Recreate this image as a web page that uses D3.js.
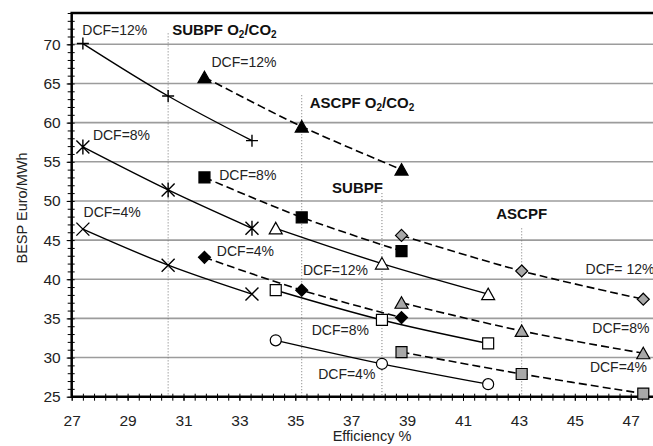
<!DOCTYPE html>
<html>
<head>
<meta charset="utf-8">
<script src="https://cdn.jsdelivr.net/npm/d3@7"></script>
<style>
  body { margin: 0; background: #fff; }
  svg { display: block; font-family: "Liberation Sans", Arial, sans-serif; }
</style>
</head>
<body>
<div id="chart"></div>
<script>
// Data ==========================
const dcfRates = ["12%", "8%", "4%"];

// efficiency (%) of the three cases of each plant type
const effSubpfOxy = [27.4, 30.45, 33.45];
const effAscpfOxy = [31.75, 35.23, 38.8];
const effSubpf = [34.3, 38.1, 41.9];
const effAscpf = [38.8, 43.1, 47.45];

// BESP (Euro/MWh), one row per DCF rate (12%, 8%, 4%)
const bespSubpfOxy = [[70.1, 63.4, 57.7], [56.9, 51.4, 46.5], [46.4, 41.8, 38.1]];
const bespAscpfOxy = [[65.8, 59.5, 54.0], [53.0, 47.9, 43.6], [42.8, 38.6, 35.1]];
const bespSubpf = [[46.5, 42.0, 38.1], [38.6, 34.8, 31.8], [32.2, 29.2, 26.6]];
const bespAscpf = [[45.6, 41.05, 37.45], [37.0, 33.4, 30.55], [30.7, 27.9, 25.4]];

const xTicks = [27, 29, 31, 33, 35, 37, 39, 41, 43, 45, 47];
const yTicks = [25, 30, 35, 40, 45, 50, 55, 60, 65, 70];

// Layout ========================
let svgWidth = 653;
let svgHeight = 446;
let x = d3.scaleLinear().domain([27, 48]).range([71.7, 71.7 + 21 * 27.95]);
let y = d3.scaleLinear().domain([25, 74]).range([396.7, 13]);

let svg = d3.select("#chart").append("svg").attr("width", svgWidth).attr("height", svgHeight);

const plants = [
  { name: ["SUBPF O", "2", "/CO", "2"], eff: effSubpfOxy, besp: bespSubpfOxy, dashed: false,
    markers: ["plus", "star", "cross"], fill: "none",
    nameAt: { dx: 4, base: 35, anchor: "start" }, guideTop: 71.4,
    labels: [{ i: 0, dx: -0.6, dy: -9, anchor: "start" }, { i: 0, dx: 10, dy: -7.4, anchor: "start" }, { i: 0, dx: 0.7, dy: -12, anchor: "start" }] },
  { name: ["ASCPF O", "2", "/CO", "2"], eff: effAscpfOxy, besp: bespAscpfOxy, dashed: true,
    markers: ["triangle", "square", "diamond"], fill: "#000",
    nameAt: { dx: 8, base: 108, anchor: "start" }, guideTop: 63.5,
    labels: [{ i: 0, dx: 7, dy: -10.6, anchor: "start" }, { i: 0, dx: 14.7, dy: 2.7, anchor: "start" }, { i: 0, dx: 12.4, dy: -1.6, anchor: "start" }] },
  { name: ["SUBPF"], eff: effSubpf, besp: bespSubpf, dashed: false,
    markers: ["triangle", "square", "circle"], fill: "#fff",
    nameAt: { dx: 1, base: 193, anchor: "end" }, guideTop: 51.0,
    labels: [{ i: 1, dx: -14, dy: 11.7, anchor: "end" }, { i: 1, dx: -13, dy: 15, anchor: "end" }, { i: 1, dx: -6.6, dy: 15, anchor: "end" }] },
  { name: ["ASCPF"], eff: effAscpf, besp: bespAscpf, dashed: true,
    markers: ["diamond", "triangle", "square"], fill: "#a8a8a8",
    nameAt: { dx: 0, base: 219, anchor: "middle" }, guideTop: 46.5,
    labels: [{ i: 2, dx: -57.7, dy: -25, anchor: "start", gap: true }, { i: 2, dx: -51, dy: -20, anchor: "start" }, { i: 2, dx: -53.4, dy: -21.6, anchor: "start" }] }
];

const markerPaths = {
  plus: "M-6,0H6M0,-6V6",
  star: "M-6.5,-6.5L6.5,6.5M-6.5,6.5L6.5,-6.5M0,-7.5V7.5",
  cross: "M-6.5,-6.5L6.5,6.5M-6.5,6.5L6.5,-6.5",
  triangle: "M0,-6L6.5,5.5L-6.5,5.5Z",
  square: "M-5.5,-5.5H5.5V5.5H-5.5Z",
  diamond: "M0,-6L6,0L0,6L-6,0Z",
  circle: "M5.5,0A5.5,5.5,0,1,1,-5.5,0A5.5,5.5,0,1,1,5.5,0Z"
};

// Grid ==========================
svg.append("g").selectAll("line")
  .data(yTicks.filter(v => v > 25))
  .enter().append("line")
  .attr("x1", x(27)).attr("x2", x(48))
  .attr("y1", d => y(d)).attr("y2", d => y(d))
  .attr("stroke", "#9c9c9c").attr("stroke-width", 1.6);

// vertical dotted guides at the middle case of each plant
svg.append("g").selectAll("line")
  .data(plants)
  .enter().append("line")
  .attr("x1", d => x(d.eff[1])).attr("x2", d => x(d.eff[1]))
  .attr("y1", d => y(d.guideTop)).attr("y2", y(25))
  .attr("stroke", "#777").attr("stroke-width", 1).attr("stroke-dasharray", "1,2");

// Axes ==========================
let xMinor = svg.append("g")
  .attr("transform", `translate(0, ${y(25)})`)
  .call(d3.axisBottom(x).tickValues(d3.range(0, 53).map(k => 27 + k * 0.4)).tickFormat(""));
xMinor.selectAll("line").attr("y1", -3).attr("y2", 4).attr("stroke", "#000");

let xAxis = svg.append("g")
  .attr("transform", `translate(0, ${y(25)})`)
  .call(d3.axisBottom(x).tickValues(xTicks).tickSize(4).tickPadding(14).tickFormat(d3.format("d")));
xAxis.selectAll("text").attr("font-size", 15.5).attr("fill", "#222").attr("font-family", "Liberation Sans, Arial, sans-serif");

let yMinor = svg.append("g")
  .attr("transform", `translate(${x(27)}, 0)`)
  .call(d3.axisLeft(y).tickValues(d3.range(25, 75)).tickFormat(""));
yMinor.selectAll("line").attr("x1", 3).attr("x2", -4).attr("stroke", "#000");

let yAxis = svg.append("g")
  .attr("transform", `translate(${x(27)}, 0)`)
  .call(d3.axisLeft(y).tickValues(yTicks).tickSize(5).tickPadding(6));
yAxis.selectAll("text").attr("font-size", 15.5).attr("fill", "#222").attr("font-family", "Liberation Sans, Arial, sans-serif");

svg.selectAll(".domain").remove();

// frame: left axis, bottom axis, top border
svg.append("path")
  .attr("d", `M${x(48)},${y(74)}H${x(27)}V${y(25)}H${x(48)}`)
  .attr("fill", "none").attr("stroke", "#000").attr("stroke-width", 2.5);

// Axis titles
svg.append("text")
  .attr("transform", `translate(27, 208) rotate(-90)`)
  .attr("text-anchor", "middle").attr("font-size", 14.5).attr("fill", "#222")
  .text("BESP Euro/MWh");

svg.append("text")
  .attr("x", 372).attr("y", 441)
  .attr("text-anchor", "middle").attr("font-size", 14.5).attr("fill", "#222")
  .text("Efficiency %");

// Series ========================
let line = d3.line()
  .x(d => x(d.eff))
  .y(d => y(d.besp))
  .curve(d3.curveCatmullRom.alpha(0.5));

plants.forEach(p => {
  p.besp.forEach((row, r) => {
    let pts = row.map((v, i) => ({ eff: p.eff[i], besp: v }));
    svg.append("path")
      .datum(pts)
      .attr("d", line)
      .attr("fill", "none")
      .attr("stroke", "#000")
      .attr("stroke-width", p.dashed ? 1.6 : 1.4)
      .attr("stroke-dasharray", p.dashed ? "8,4" : null);
  });
});

plants.forEach(p => {
  p.besp.forEach((row, r) => {
    let pts = row.map((v, i) => ({ eff: p.eff[i], besp: v }));
    let shape = p.markers[r];
    let open = shape === "plus" || shape === "star" || shape === "cross";
    svg.append("g").selectAll("path")
      .data(pts)
      .enter().append("path")
      .attr("transform", d => `translate(${x(d.eff)}, ${y(d.besp)})`)
      .attr("d", markerPaths[shape])
      .attr("fill", open ? "none" : p.fill)
      .attr("stroke", "#000")
      .attr("stroke-width", open ? 1.4 : 1.2);

    // DCF label
    let lab = p.labels[r];
    svg.append("text")
      .attr("x", x(p.eff[lab.i]) + lab.dx)
      .attr("y", y(row[lab.i]) + lab.dy)
      .attr("text-anchor", lab.anchor)
      .attr("font-size", 14)
      .attr("fill", "#222")
      .text("DCF=" + (lab.gap ? " " : "") + dcfRates[r]);
  });

  // plant type name (bold, with subscripts)
  let t = svg.append("text")
    .attr("x", x(p.eff[1]) + p.nameAt.dx)
    .attr("y", p.nameAt.base)
    .attr("text-anchor", p.nameAt.anchor)
    .attr("font-size", 15)
    .attr("font-weight", "bold")
    .attr("fill", "#111");
  p.name.forEach((s, k) => {
    let sub = k % 2 === 1;
    t.append("tspan")
      .attr("font-size", sub ? 10 : 15)
      .attr("dy", sub ? 3 : (k > 0 ? -3 : 0))
      .text(s);
  });
});
</script>
</body>
</html>
